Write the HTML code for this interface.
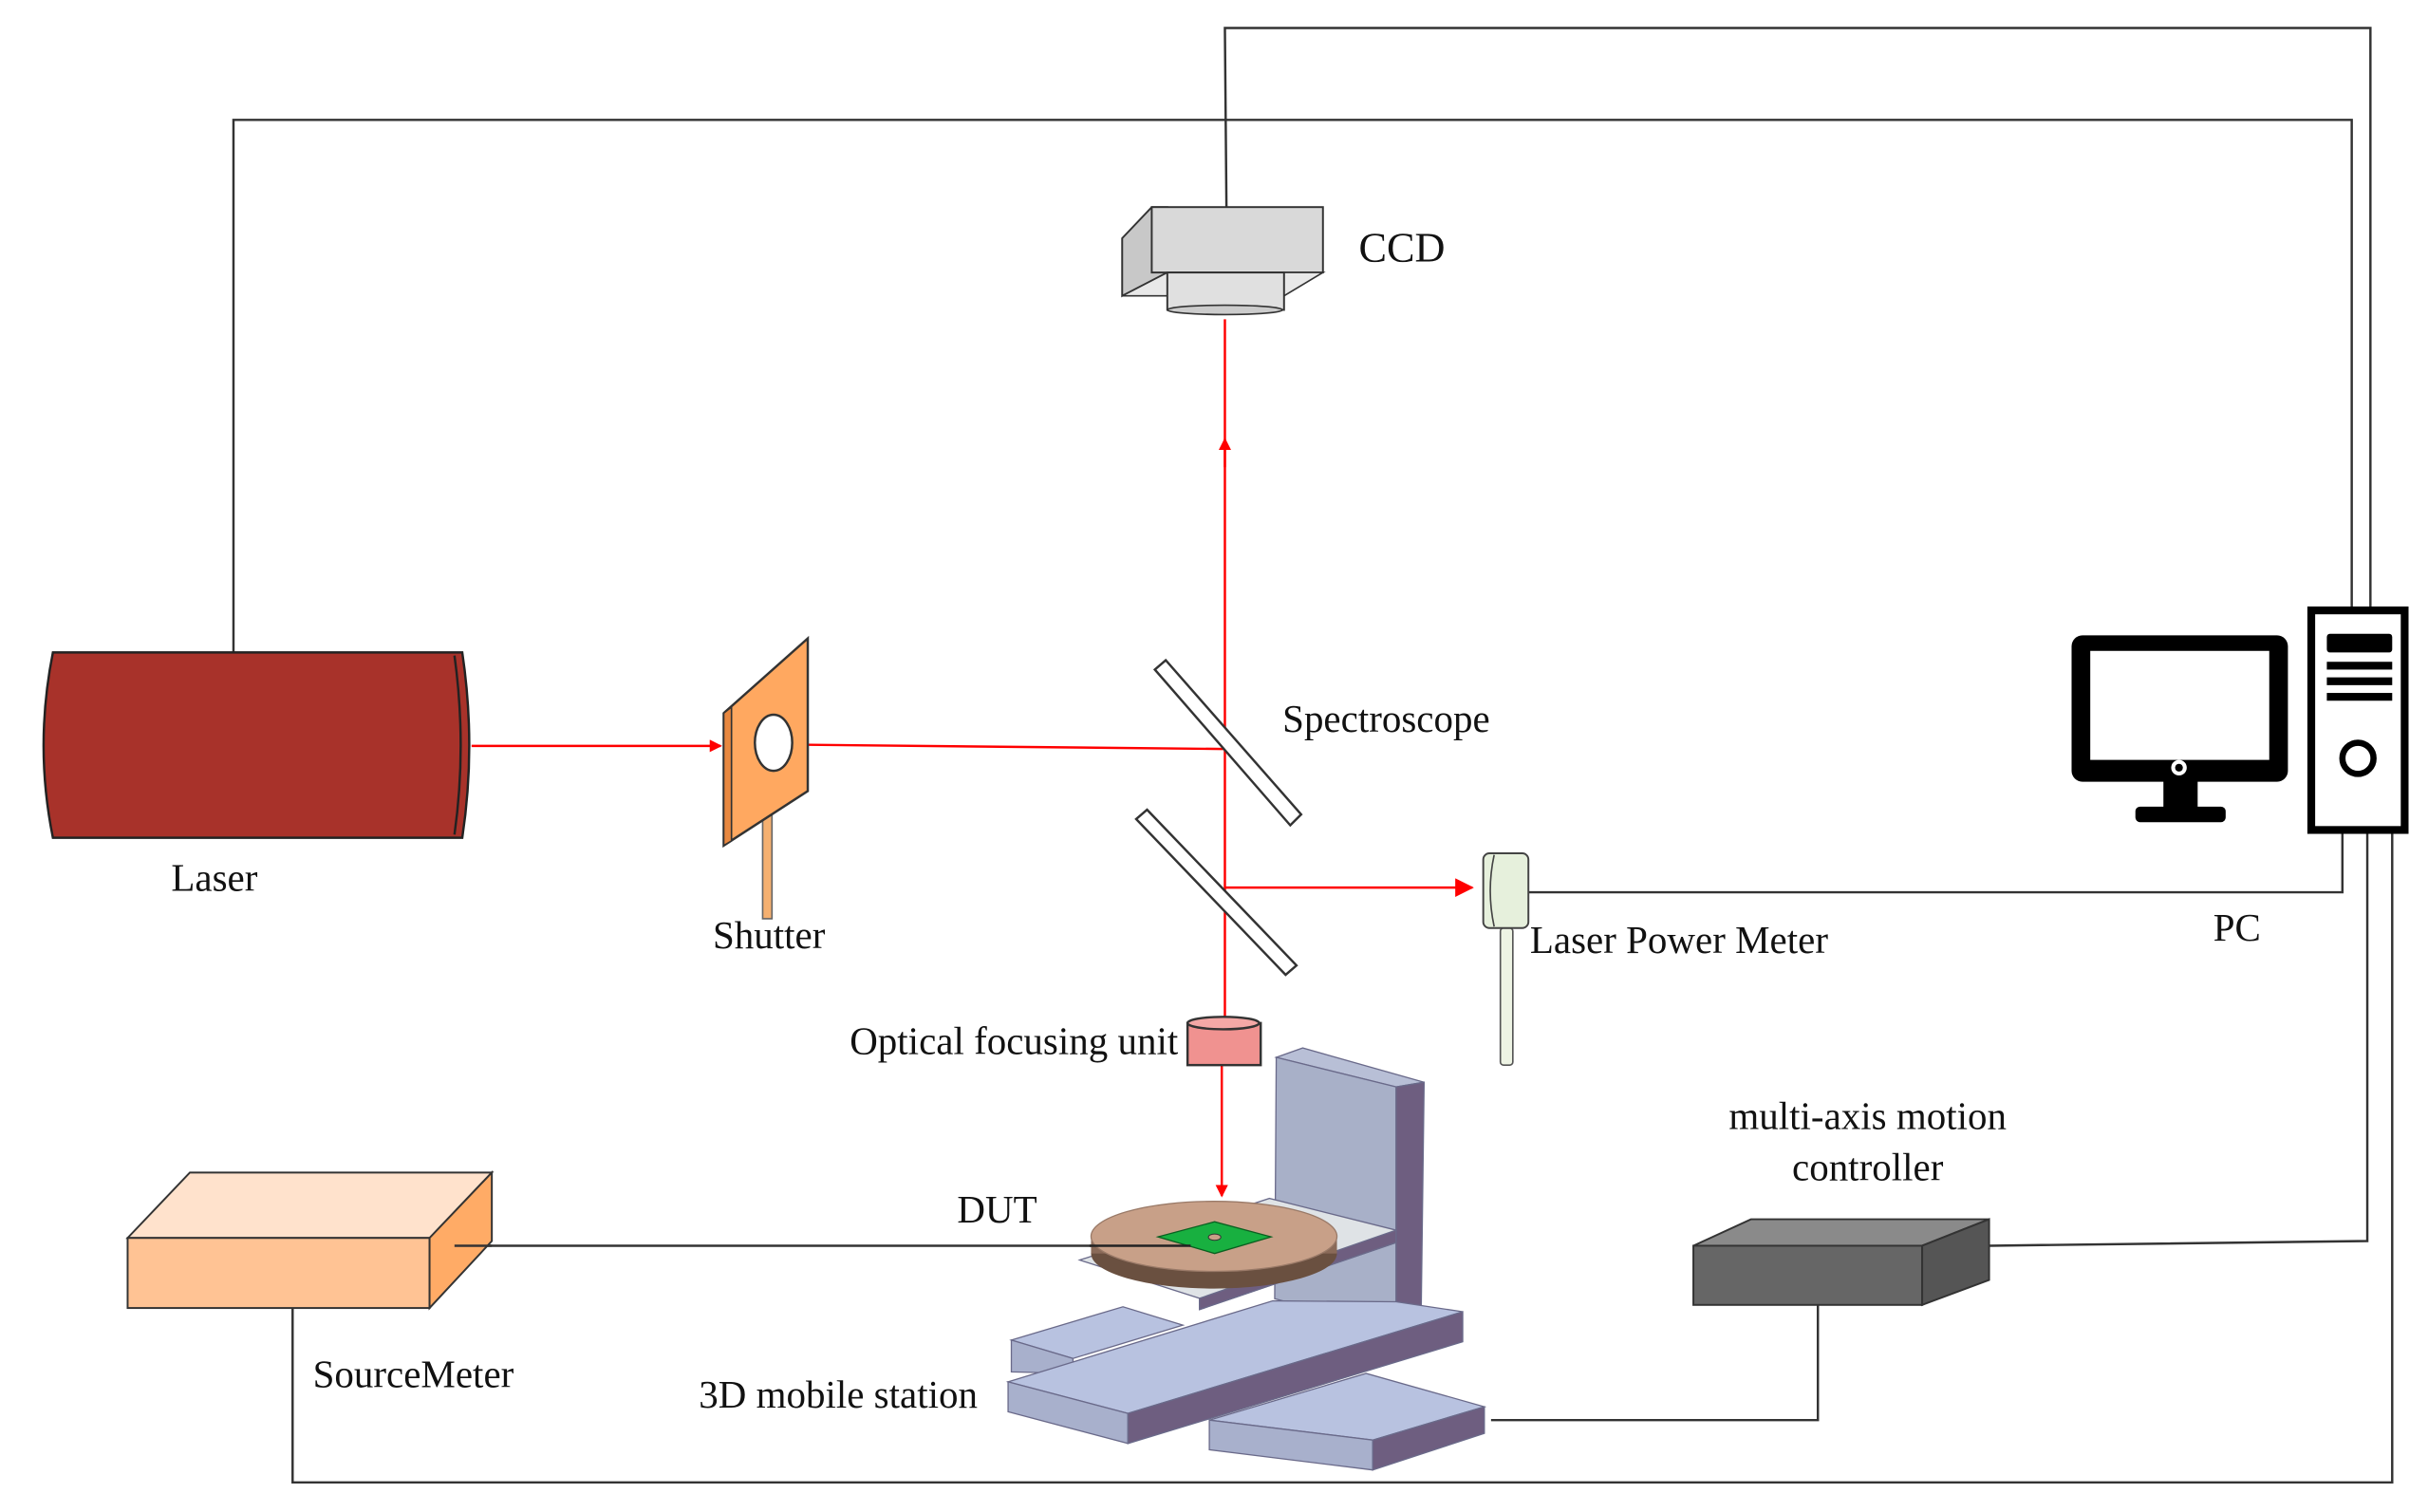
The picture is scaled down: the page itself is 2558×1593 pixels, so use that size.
<!DOCTYPE html>
<html><head><meta charset="utf-8"><style>
html,body{margin:0;padding:0;background:#fff;}
svg{display:block}
text{font-family:"Liberation Serif",serif;font-size:25px;fill:#111;}
</style></head><body>
<svg width="2558" height="1593" viewBox="0 0 1560 971" preserveAspectRatio="none" xmlns="http://www.w3.org/2000/svg">
<defs>
<marker id="ar" markerWidth="8" markerHeight="8" refX="7" refY="4" orient="auto" markerUnits="userSpaceOnUse"><path d="M0,0 L8,4 L0,8 z" fill="#f00"/></marker>
<marker id="arb" markerWidth="12" markerHeight="12" refX="11" refY="6" orient="auto" markerUnits="userSpaceOnUse"><path d="M0,0 L12,6 L0,12 z" fill="#f00"/></marker>
</defs>
<g fill="none" stroke="#333" stroke-width="1.5">
<polyline points="788,133 787,18 1523,18 1523,390"/>
<polyline points="150,420 150,77 1511,77 1511,390"/>
<polyline points="982,573 1505,573 1505,535"/>
<polyline points="1278,800 1521,797 1521,535"/>
<polyline points="188,840 188,952 1537,952 1537,535"/>
<polyline points="958,912 1168,912 1168,838"/>
<line x1="292" y1="800" x2="760" y2="800"/>
</g>
<!-- Laser -->
<path d="M34,419 L297,419 Q306,479 297,538 L34,538 Q22,479 34,419 z" fill="#a8322a" stroke="#222" stroke-width="1.5"/>
<path d="M292,421 Q300,479 292,536" fill="none" stroke="#222" stroke-width="1.5"/>
<!-- beams -->
<g stroke="#f00" stroke-width="1.5" fill="none">
<line x1="303" y1="479" x2="463" y2="479" marker-end="url(#ar)"/>
<line x1="490" y1="478" x2="787" y2="481"/>
<line x1="787" y1="655" x2="787" y2="205"/>
<line x1="787" y1="300" x2="787" y2="282" marker-end="url(#ar)"/>
<line x1="787" y1="570" x2="946" y2="570" marker-end="url(#arb)"/>
<line x1="785" y1="684" x2="785" y2="768" marker-end="url(#ar)"/>
</g>
<!-- Shutter -->
<rect x="490" y="520" width="6" height="70" fill="#f5b070" stroke="#666"/>
<polygon points="465,458 519,410 519,508 465,543" fill="#ffa860" stroke="#333" stroke-width="1.5"/>
<polygon points="465,458 470,454 470,540 465,543" fill="#e88840" stroke="#333"/>
<ellipse cx="497" cy="477" rx="12" ry="18" fill="#fff" stroke="#333" stroke-width="1.5"/>
<!-- Spectroscope mirrors -->
<polygon points="742,430 749,424 836,523 829,530" fill="#fff" stroke="#333" stroke-width="1.5"/>
<polygon points="730,526 737,520 833,620 826,626" fill="#fff" stroke="#333" stroke-width="1.5"/>
<!-- CCD -->
<polygon points="721,153 740,133 750,133 750,175 721,190" fill="#c8c8c8" stroke="#333" stroke-width="1.2"/>
<rect x="740" y="133" width="110" height="42" fill="#d9d9d9" stroke="#333" stroke-width="1.2"/>
<polygon points="721,190 750,175 850,175 825,190" fill="#e8e8e8" stroke="#333" stroke-width="1"/>
<rect x="750" y="175" width="75" height="24" fill="#e0e0e0" stroke="#333" stroke-width="1.2"/>
<ellipse cx="787" cy="199" rx="37" ry="3" fill="#ccc" stroke="#333"/>
<!-- Optical focusing unit -->
<rect x="763" y="657" width="47" height="27" fill="#f09290" stroke="#333" stroke-width="1.5"/>
<ellipse cx="786" cy="657" rx="23" ry="4" fill="#f4a8a6" stroke="#333" stroke-width="1.5"/>
<!-- Laser power meter -->
<rect x="964" y="596" width="8" height="88" rx="2" fill="#eef4e4" stroke="#555"/>
<rect x="953" y="548" width="29" height="48" rx="4" fill="#e6f0dc" stroke="#444" stroke-width="1.2"/>
<path d="M960,549 Q955,572 960,595" fill="none" stroke="#444"/>
<!-- PC monitor -->
<rect x="1331" y="408" width="139" height="94" rx="7" fill="#000"/>
<rect x="1343" y="418" width="115" height="70" fill="#fff"/>
<circle cx="1400" cy="493" r="5" fill="#fff"/>
<circle cx="1400" cy="493" r="2.5" fill="#000"/>
<rect x="1390" y="500" width="22" height="20" fill="#000"/>
<rect x="1372" y="518" width="58" height="10" rx="3" fill="#000"/>
<!-- tower -->
<rect x="1485" y="392" width="60" height="141" fill="#fff" stroke="#000" stroke-width="5"/>
<rect x="1495" y="407" width="42" height="12" rx="2" fill="#000"/>
<rect x="1495" y="425" width="42" height="5" fill="#000"/>
<rect x="1495" y="435" width="42" height="5" fill="#000"/>
<rect x="1495" y="445" width="42" height="5" fill="#000"/>
<circle cx="1515" cy="487" r="10" fill="#fff" stroke="#000" stroke-width="4"/>
<!-- SourceMeter -->
<polygon points="82,795 122,753 316,753 276,795" fill="#ffe2cc" stroke="#333" stroke-width="1.2"/>
<rect x="82" y="795" width="194" height="45" fill="#ffc394" stroke="#333" stroke-width="1.2"/>
<polygon points="276,795 316,753 316,797 276,840" fill="#ffab66" stroke="#333" stroke-width="1.2"/>
<line x1="292" y1="800" x2="316" y2="800" stroke="#333" stroke-width="1.5"/>
<!-- controller -->
<polygon points="1088,800 1125,783 1278,783 1235,800" fill="#8a8a8a" stroke="#333" stroke-width="1.2"/>
<rect x="1088" y="800" width="147" height="38" fill="#666" stroke="#333" stroke-width="1.2"/>
<polygon points="1235,800 1278,783 1278,822 1235,838" fill="#555" stroke="#333" stroke-width="1.2"/>
<!-- Stage -->
<g stroke="#6a6a8a" stroke-width="0.8">
<polygon points="777,912 877.7,882 953.7,903.4 882,924.8" fill="#b8c2e0"/>
<polygon points="777,912 882,924.8 882,944 777,931" fill="#a8b0cc"/>
<polygon points="882,924.8 953.7,903.4 953.7,920.5 882,944" fill="#6e5e80"/>
<polygon points="649.8,860.6 721.5,839.2 760,851 689.4,872.4" fill="#b8c2e0"/>
<polygon points="649.8,860.6 689.4,872.4 689.4,882 649.8,881" fill="#a8b0cc"/>
<polygon points="820,679 837,673 915,695 897,698" fill="#b8bfd6"/>
<polygon points="820,679 897,698 897,855 819,834" fill="#a8b0c8"/>
<polygon points="897,698 915,695 913,852 897,855" fill="#6e5e80"/>
<polygon points="647.7,887.4 817.8,835.4 897,836 939.8,842.4 724.7,907.7" fill="#b8c2e0"/>
<polygon points="647.7,887.4 724.7,907.7 724.7,927 647.7,906.6" fill="#a8b0cc"/>
<polygon points="724.7,907.7 939.8,842.4 939.8,861.7 724.7,927" fill="#6e5e80"/>
<polygon points="693.7,809.2 815.6,769.6 897,790 897,798 770.7,841 770.7,833.8" fill="#dfe3e6"/>
<polygon points="770.7,833.8 897,790 897,798 770.7,841" fill="#6e5e80"/>
</g>
<ellipse cx="780" cy="805" rx="79" ry="22.5" fill="#6a5040"/>
<rect x="701" y="794" width="158" height="11" fill="#8a6a58"/>
<ellipse cx="780" cy="794" rx="79" ry="22.5" fill="#c8a088" stroke="#9a7a68" stroke-width="0.8"/>
<polygon points="744,794.3 780.4,784.6 816.7,794.3 780.4,805" fill="#18b040" stroke="#0a6020" stroke-width="0.8"/>
<ellipse cx="780.4" cy="794.5" rx="4" ry="2" fill="#c8a088" stroke="#333" stroke-width="0.6"/>
<line x1="700" y1="800" x2="765" y2="800" stroke="#222" stroke-width="1.5"/>
<!-- labels -->
<text x="873" y="168" style="font-size:27px">CCD</text>
<text x="824" y="470">Spectroscope</text>
<text x="110" y="572">Laser</text>
<text x="458" y="609">Shutter</text>
<text x="983" y="612">Laser Power Meter</text>
<text x="1422" y="604">PC</text>
<text x="757" y="677" text-anchor="end">Optical focusing unit</text>
<text x="615" y="785">DUT</text>
<text x="1200" y="725" text-anchor="middle">multi-axis motion</text>
<text x="1200" y="758" text-anchor="middle">controller</text>
<text x="201" y="891">SourceMeter</text>
<text x="449" y="904">3D mobile station</text>
</svg>
</body></html>
